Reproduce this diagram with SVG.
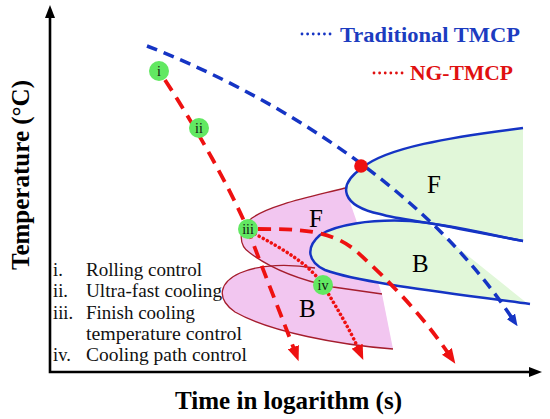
<svg xmlns="http://www.w3.org/2000/svg" width="550" height="419" viewBox="0 0 550 419">
<style>
.ax{stroke:#000;stroke-width:2.6;fill:none}
.pink{fill:#f2c6f0;stroke:none}
.green{fill:#e1f7d9;stroke:none}
.rout{fill:none;stroke:#a51d2d;stroke-width:1.3}
.bout{fill:none;stroke:#1534c4;stroke-width:2.5}
.bdash{fill:none;stroke:#1534c4;stroke-width:3.5;stroke-dasharray:11 7}
.rdash{fill:none;stroke:#ee1111;stroke-width:3.8;stroke-dasharray:13 8}
.rdot{fill:none;stroke:#ee1111;stroke-width:3.6;stroke-linecap:round;stroke-dasharray:0.01 4.6}
.ldot{stroke-width:2.8;stroke-linecap:round;stroke-dasharray:0.01 5.6}
.node circle{fill:#62e862}
.node text{font-family:"Liberation Serif",serif;font-size:14px;fill:#111;text-anchor:middle}
.lbl{font-family:"Liberation Serif",serif;font-size:25px;fill:#000}
.leg{font-family:"Liberation Serif",serif;font-size:18.5px;fill:#111}
.title{font-family:"Liberation Serif",serif;font-weight:bold;font-size:22px}
.axl{font-family:"Liberation Serif",serif;font-weight:bold;font-size:25px;fill:#000}
</style>
<defs>
<marker id="ra" markerUnits="userSpaceOnUse" markerWidth="16" markerHeight="12" refX="2" refY="6" orient="auto">
<path d="M0,0 L15,6 L0,12 z" fill="#ee1111"/>
</marker>
<marker id="ba" markerUnits="userSpaceOnUse" markerWidth="12" markerHeight="10" refX="2" refY="5" orient="auto">
<path d="M0,0 L12,5 L0,10 z" fill="#1534c4"/>
</marker>
</defs>
<rect width="550" height="419" fill="#fff"/>

<g id="axes">
<polyline class="ax" points="50,16 50,372 530,372"/>
<polygon points="50,5 45,18 55,18" fill="#000"/>
<polygon points="542,372 529,367 529,377" fill="#000"/>
<text class="axl" transform="translate(29,175) rotate(-90)" text-anchor="middle" textLength="190" lengthAdjust="spacingAndGlyphs">Temperature (°C)</text>
<text class="axl" x="288.5" y="409" text-anchor="middle" textLength="227" lengthAdjust="spacingAndGlyphs">Time in logarithm (s)</text>
</g>

<g id="pink-regions">
<path class="pink" d="M315,268 C290,264 260,264 240,273 C220,282 215,298 235,312 C270,332 340,345 393,349 L382,294 Z"/>
<path class="pink" d="M345,188 C310,197 270,205 252,218 C238,228 238,245 250,253 C270,268 300,280 333,287 L382,294 Z"/>
</g>

<g id="green-regions">
<path class="green" d="M523,128 C450,137 385,148 362,168 C336,186 342,206 380,214 C400,220 430,222 460,229 L523,241 Z"/>
<path class="green" d="M426,222 C395,219 340,222 320,235 C305,248 308,262 325,270 C360,283 450,293 528,304 Z"/>
</g>

<g id="curve-F-ng">
<path class="rout" d="M345,188 C310,197 270,205 252,218 C238,228 238,245 250,253 C270,268 300,280 333,287 L382,294"/>
<text class="lbl" x="309" y="227">F</text>
</g>
<g id="curve-B-ng">
<path class="rout" d="M315,268 C290,264 260,264 240,273 C220,282 215,298 235,312 C270,332 340,345 393,349"/>
<text class="lbl" x="299" y="317">B</text>
</g>
<g id="curve-F-trad">
<path class="bout" d="M523,128 C450,137 385,148 362,168 C336,186 342,206 380,214 C400,220 430,222 460,229 L523,241"/>
<text class="lbl" x="427" y="193">F</text>
</g>
<g id="curve-B-trad">
<path class="bout" d="M523,241 C490,235 450,224 410,221 C370,219 335,225 320,235 C305,248 308,262 325,270 C360,283 450,293 530,304"/>
<text class="lbl" x="412" y="272">B</text>
</g>

<g id="connectors">
<path class="bdash" d="M147,46 C260,90 420,180 512,318" marker-end="url(#ba)"/>
<path class="rdash" d="M165,80 C190,118 232,190 250,235 C265,275 283,320 294,349" marker-end="url(#ra)"/>
<path class="rdash" d="M258,229 C300,229 330,230 355,250 C385,277 420,312 448,353" marker-end="url(#ra)"/>
<path class="rdot" d="M255,234 C285,250 310,265 323,285 C337,308 350,330 358,348" marker-end="url(#ra)"/>
</g>

<g id="intersection">
<circle cx="361" cy="166" r="6.8" fill="#ee1111"/>
</g>

<g id="node-i" class="node"><circle cx="159" cy="71" r="10"/><text x="159" y="76">i</text></g>
<g id="node-ii" class="node"><circle cx="199" cy="128" r="10"/><text x="199" y="133">ii</text></g>
<g id="node-iii" class="node"><circle cx="248" cy="229" r="10"/><text x="248" y="234">iii</text></g>
<g id="node-iv" class="node"><circle cx="323" cy="285" r="10"/><text x="323" y="290">iv</text></g>

<g id="legend">
<line class="ldot" x1="302" y1="34" x2="331" y2="34" stroke="#1534c4"/>
<text class="title" x="340" y="42" fill="#1c3cc0" textLength="180" lengthAdjust="spacingAndGlyphs">Traditional TMCP</text>
<line class="ldot" x1="374" y1="73" x2="403" y2="73" stroke="#e01010"/>
<text class="title" x="410" y="80" fill="#e01010" textLength="103" lengthAdjust="spacingAndGlyphs">NG-TMCP</text>
</g>

<g id="steps">
<text class="leg" x="53" y="276">i.</text>
<text class="leg" x="86" y="276" textLength="116" lengthAdjust="spacingAndGlyphs">Rolling control</text>
<text class="leg" x="53" y="297">ii.</text>
<text class="leg" x="86" y="297" textLength="136" lengthAdjust="spacingAndGlyphs">Ultra-fast cooling</text>
<text class="leg" x="53" y="319">iii.</text>
<text class="leg" x="86" y="319" textLength="109" lengthAdjust="spacingAndGlyphs">Finish cooling</text>
<text class="leg" x="86" y="340" textLength="156" lengthAdjust="spacingAndGlyphs">temperature control</text>
<text class="leg" x="53" y="361">iv.</text>
<text class="leg" x="86" y="361" textLength="161" lengthAdjust="spacingAndGlyphs">Cooling path control</text>
</g>
</svg>
